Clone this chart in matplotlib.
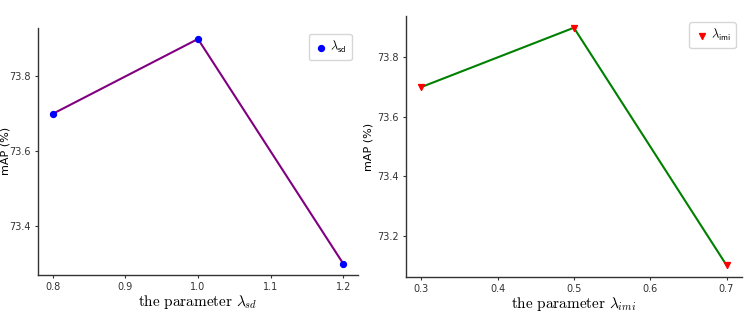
import matplotlib
matplotlib.use("Agg")
import matplotlib.pyplot as plt

plt.rcParams["mathtext.fontset"] = "cm"

x_sd = [0.8, 1.0, 1.2]
map_sd = [73.7, 73.9, 73.3]
x_imi = [0.3, 0.5, 0.7]
map_imi = [73.7, 73.9, 73.1]

fig = plt.figure(figsize=(7.47, 3.17), dpi=100)
ax1 = fig.add_axes([0.051, 0.1325, 0.428, 0.78])
ax2 = fig.add_axes([0.5435, 0.126, 0.4495, 0.824])

def style(ax):
    for s in ["top", "right"]:
        ax.spines[s].set_visible(False)
    for s in ["left", "bottom"]:
        ax.spines[s].set_color("#333333")
        ax.spines[s].set_linewidth(1.0)
    ax.tick_params(labelsize=7, length=2.5, width=0.8, pad=2.5, colors="#333333")
    ax.set_ylabel("mAP (%)", fontsize=8, fontfamily="DejaVu Sans")

ax1.plot(x_sd, map_sd, color="purple", linewidth=1.5, zorder=1)
ax1.scatter(x_sd, map_sd, color="blue", marker="o", s=18, zorder=2,
            label=r"$\lambda_{\mathsf{sd}}$")
ax1.set_xticks([0.8, 0.9, 1.0, 1.1, 1.2])
ax1.set_yticks([73.4, 73.6, 73.8])
style(ax1)
ax1.yaxis.set_label_coords(-0.086, 0.5)
ax1.set_xlabel(r"$\mathrm{the\ parameter}\ \lambda_{sd}$", fontsize=11, labelpad=0.5)
ax1.legend(loc="upper right", fontsize=9, handletextpad=0.1, borderpad=0.4, handlelength=1.2)

ax2.plot(x_imi, map_imi, color="green", linewidth=1.5, zorder=1)
ax2.scatter(x_imi, map_imi, color="red", marker="v", s=18, zorder=2,
            label=r"$\lambda_{\mathsf{imi}}$")
ax2.set_xticks([0.3, 0.4, 0.5, 0.6, 0.7])
ax2.set_yticks([73.2, 73.4, 73.6, 73.8])
style(ax2)
ax2.yaxis.set_label_coords(-0.098, 0.5)
ax2.set_xlabel(r"$\mathrm{the\ parameter}\ \lambda_{imi}$", fontsize=11, labelpad=0.5)
ax2.legend(loc="upper right", fontsize=9, handletextpad=0.1, borderpad=0.4, handlelength=1.2)

fig.savefig("out.png", dpi=100)
